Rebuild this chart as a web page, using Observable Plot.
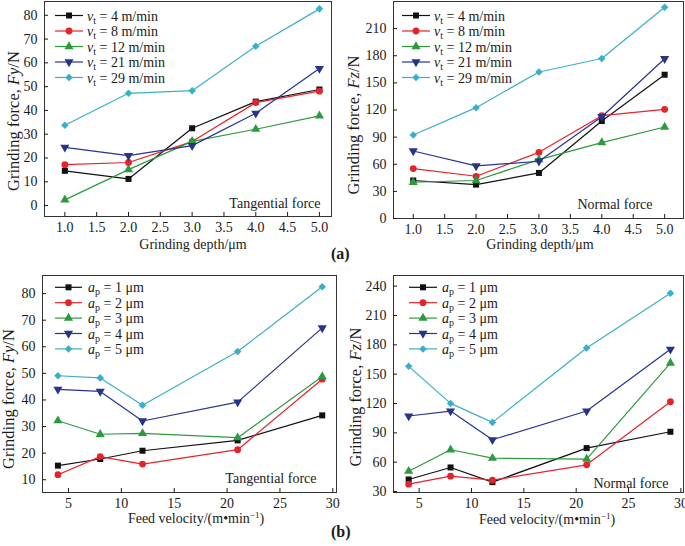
<!DOCTYPE html>
<html><head><meta charset="utf-8">
<script src="https://cdn.jsdelivr.net/npm/d3@7"></script>
<script src="https://cdn.jsdelivr.net/npm/@observablehq/plot@0.6"></script>
<style>
body{margin:0;background:#fff;}
#root{position:relative;width:685px;height:546px;overflow:hidden;font-family:"Liberation Serif","Times New Roman",serif;color:#1a1a1a;}
.panel{position:absolute;}
.tag{position:absolute;font-weight:bold;font-size:16px;}
</style></head><body><div id="root"></div>
<script>
// ---- data ----
const depthValues = [1, 2, 3, 4, 5];
const feedValues = [4, 8, 12, 21, 29];
const vtLabels = ["4", "8", "12", "21", "29"];
const apLabels = ["1", "2", "3", "4", "5"];
const depthTicks = [1.0, 1.5, 2.0, 2.5, 3.0, 3.5, 4.0, 4.5, 5.0];
const feedTicks = [5, 10, 15, 20, 25, 30];
const fyTicks = [0, 10, 20, 30, 40, 50, 60, 70, 80];
const fzTicks = [0, 30, 60, 90, 120, 150, 180, 210];
const fyFeedTicks = [10, 20, 30, 40, 50, 60, 70, 80];
const fzFeedTicks = [30, 60, 90, 120, 150, 180, 210, 240];

// (a) tangential force Fy vs grinding depth, one series per feed velocity
const fyDepthV4  = [14.6, 11.2, 32.5, 43.7, 48.8];
const fyDepthV8  = [17.2, 18.1, 26.9, 43.3, 48.1];
const fyDepthV12 = [2.4, 15.1, 27.0, 32.1, 37.7];
const fyDepthV21 = [24.5, 21.0, 25.2, 38.8, 57.6];
const fyDepthV29 = [33.8, 47.2, 48.3, 67.0, 82.7];
// (a) normal force Fz vs grinding depth
const fzDepthV4  = [42.0, 37.5, 50.4, 107.8, 159.0];
const fzDepthV8  = [55.2, 46.7, 73.2, 113.7, 120.7];
const fzDepthV12 = [40.1, 42.0, 65.1, 83.9, 101.2];
const fzDepthV21 = [74.7, 58.2, 63.3, 112.6, 176.7];
const fzDepthV29 = [92.4, 122.6, 162.0, 177.0, 233.7];
// (b) tangential force Fy vs feed velocity, one series per depth
const fyFeedA1 = [15.3, 17.8, 20.9, 24.8, 34.2];
const fyFeedA2 = [11.9, 18.7, 15.9, 21.3, 47.8];
const fyFeedA3 = [32.2, 27.1, 27.4, 25.8, 48.8];
const fyFeedA4 = [44.0, 43.2, 32.1, 39.2, 67.1];
const fyFeedA5 = [49.1, 48.3, 38.0, 58.2, 82.6];
// (b) normal force Fz vs feed velocity
const fzFeedA1 = [42.3, 54.6, 39.6, 74.4, 91.1];
const fzFeedA2 = [37.5, 45.7, 41.6, 57.3, 121.8];
const fzFeedA3 = [50.8, 72.7, 64.1, 63.1, 161.4];
const fzFeedA4 = [107.2, 112.3, 82.9, 112.3, 175.4];
const fzFeedA5 = [158.0, 120.1, 100.7, 176.8, 232.8];

// ---- styles ----
const FONT = '"Liberation Serif","Times New Roman",serif';
const seriesColors = ["#111111", "#e5232b", "#2e9a3e", "#27348b", "#3aafc9"];
const triangleDown = {
  draw(context, size) {
    const y = -Math.sqrt(size / (Math.sqrt(3) * 3));
    context.moveTo(0, -2 * y);
    context.lineTo(-Math.sqrt(3) * y, y);
    context.lineTo(Math.sqrt(3) * y, y);
    context.closePath();
  }
};
const seriesSymbols = [d3.symbolSquare, d3.symbolCircle, d3.symbolTriangle, triangleDown, d3.symbolDiamond2];
const markerR = 3.4;

const root = document.getElementById("root");

function addText(svg, {x, y, rotate = 0, anchor = "middle", size = 14, baseline = null, parts}) {
  const t = d3.select(svg).append("text")
    .attr("transform", `translate(${x},${y}) rotate(${rotate})`)
    .attr("text-anchor", anchor).attr("font-size", size).attr("fill", "#1a1a1a")
    .attr("font-family", FONT);
  if (baseline) t.attr("dominant-baseline", baseline);
  for (const p of parts) {
    const s = t.append("tspan").text(p.t);
    if (p.i) s.attr("font-style", "italic");
    if (p.dy) s.attr("dy", p.dy);
    if (p.fs) s.attr("font-size", p.fs);
  }
  return t;
}

function addLegend(svg, {x1, x2, tx, y0, step, labels, kind}) {
  labels.forEach((lab, i) => {
    const y = y0 + i * step;
    const g = d3.select(svg).append("g");
    g.append("line").attr("x1", x1).attr("x2", x2).attr("y1", y).attr("y2", y)
      .attr("stroke", seriesColors[i]).attr("stroke-width", 1.2);
    g.append("path").attr("transform", `translate(${(x1 + x2) / 2},${y})`)
      .attr("d", d3.symbol(seriesSymbols[i], markerR * markerR * Math.PI)())
      .attr("fill", seriesColors[i]);
    const parts = kind === "v"
      ? [{t: "v", i: 1}, {t: "t", fs: 10, dy: 3}, {t: ` = ${lab} m/min`, dy: -3}]
      : [{t: "a", i: 1}, {t: "p", fs: 10, dy: 3}, {t: ` = ${lab} \u03bcm`, dy: -3}];
    addText(svg, {x: tx, y: y + 5, anchor: "start", parts});
  });
}

function panel(cfg) {
  const marks = [];
  cfg.series.forEach((vals, i) => {
    const recs = cfg.xs.map((x, j) => ({x, y: vals[j]}));
    marks.push(Plot.line(recs, {x: "x", y: "y", stroke: seriesColors[i], strokeWidth: 1.2}));
    marks.push(Plot.dot(recs, {x: "x", y: "y", fill: seriesColors[i], stroke: "none", symbol: seriesSymbols[i], r: markerR}));
  });
  marks.push(Plot.frame({stroke: "#333", strokeWidth: 1}));
  marks.push(Plot.axisX({ticks: cfg.xTicks, tickSize: -4, tickPadding: 10, tickFormat: cfg.xFormat, fontSize: 14, label: null}));
  marks.push(Plot.axisY({ticks: cfg.yTicks, tickSize: -4, tickPadding: 11, tickFormat: d3.format("d"), fontSize: 14, label: null}));
  marks.push(Plot.text([cfg.note], {frameAnchor: "bottom-right", textAnchor: "end", lineAnchor: "middle", dx: cfg.noteDx, dy: cfg.noteDy, fontSize: 14, fill: "#1a1a1a"}));
  const svg = Plot.plot({
    width: cfg.width, height: cfg.height,
    marginLeft: cfg.m[0], marginRight: cfg.m[1], marginTop: cfg.m[2], marginBottom: cfg.m[3],
    x: {domain: cfg.xDomain},
    y: {domain: cfg.yDomain},
    style: {fontFamily: FONT, fontSize: "14px", color: "#1a1a1a", background: "transparent", overflow: "visible"},
    marks
  });
  addText(svg, {x: cfg.yl[0], y: cfg.yl[1], rotate: -90, baseline: "central", size: 16.5,
    parts: [{t: "Grinding force, "}, {t: cfg.fname, i: 1}, {t: "/N"}]});
  addText(svg, {x: cfg.xl[0], y: cfg.xl[1], parts: cfg.xlabel});
  addLegend(svg, cfg.legend);
  const div = document.createElement("div");
  div.className = "panel";
  div.style.left = cfg.left + "px";
  div.style.top = cfg.top + "px";
  div.appendChild(svg);
  root.appendChild(div);
}

const depthLabel = [{t: "Grinding depth/\u03bcm"}];
const feedLabel = [{t: "Feed velocity/(m\u2022min"}, {t: "\u22121", fs: 9, dy: -5}, {t: ")", dy: 5}];

panel({left: 0, top: 0, width: 340, height: 262, m: [44, 9, 1, 46],
  xDomain: [0.68, 5.19], yDomain: [-4.6, 85.8], xs: depthValues,
  series: [fyDepthV4, fyDepthV8, fyDepthV12, fyDepthV21, fyDepthV29],
  xTicks: depthTicks, yTicks: fyTicks, xFormat: d3.format(".1f"),
  note: "Tangential force", noteDx: -11, noteDy: -13,
  fname: "Fy", yl: [13, 121], xl: [193, 249], xlabel: depthLabel,
  legend: {x1: 55, x2: 83, tx: 87, y0: 15.5, step: 15.5, labels: vtLabels, kind: "v"}});

panel({left: 340, top: 0, width: 345, height: 262, m: [53, 2, 1, 44],
  xDomain: [0.686, 5.30], yDomain: [0, 240], xs: depthValues,
  series: [fzDepthV4, fzDepthV8, fzDepthV12, fzDepthV21, fzDepthV29],
  xTicks: depthTicks, yTicks: fzTicks, xFormat: d3.format(".1f"),
  note: "Normal force", noteDx: -31, noteDy: -14,
  fname: "Fz", yl: [13, 125], xl: [200, 249], xlabel: depthLabel,
  legend: {x1: 62, x2: 90, tx: 94, y0: 15.5, step: 15.5, labels: vtLabels, kind: "v"}});

panel({left: 0, top: 270, width: 340, height: 276, m: [42, 4, 5, 54],
  xDomain: [2.54, 30.35], yDomain: [5.2, 86.8], xs: feedValues,
  series: [fyFeedA1, fyFeedA2, fyFeedA3, fyFeedA4, fyFeedA5],
  xTicks: feedTicks, yTicks: fyFeedTicks, xFormat: d3.format("d"),
  note: "Tangential force", noteDx: -20, noteDy: -14,
  fname: "Fy", yl: [8, 129], xl: [196, 253], xlabel: feedLabel,
  legend: {x1: 55, x2: 82, tx: 88, y0: 17.3, step: 15.4, labels: apLabels, kind: "a"}});

panel({left: 340, top: 270, width: 345, height: 276, m: [53, 2, 5, 54],
  xDomain: [2.55, 30.25], yDomain: [29, 250.9], xs: feedValues,
  series: [fzFeedA1, fzFeedA2, fzFeedA3, fzFeedA4, fzFeedA5],
  xTicks: feedTicks, yTicks: fzFeedTicks, xFormat: d3.format("d"),
  note: "Normal force", noteDx: -15, noteDy: -9,
  fname: "Fz", yl: [15, 127], xl: [207, 254], xlabel: feedLabel,
  legend: {x1: 69, x2: 97, tx: 102, y0: 17.3, step: 15.4, labels: apLabels, kind: "a"}});

function tag(txt, x, y) {
  const d = document.createElement("div");
  d.className = "tag";
  d.textContent = txt;
  d.style.left = x + "px";
  d.style.top = y + "px";
  root.appendChild(d);
}
tag("(a)", 331, 245);
tag("(b)", 331, 523);
</script></body></html>
